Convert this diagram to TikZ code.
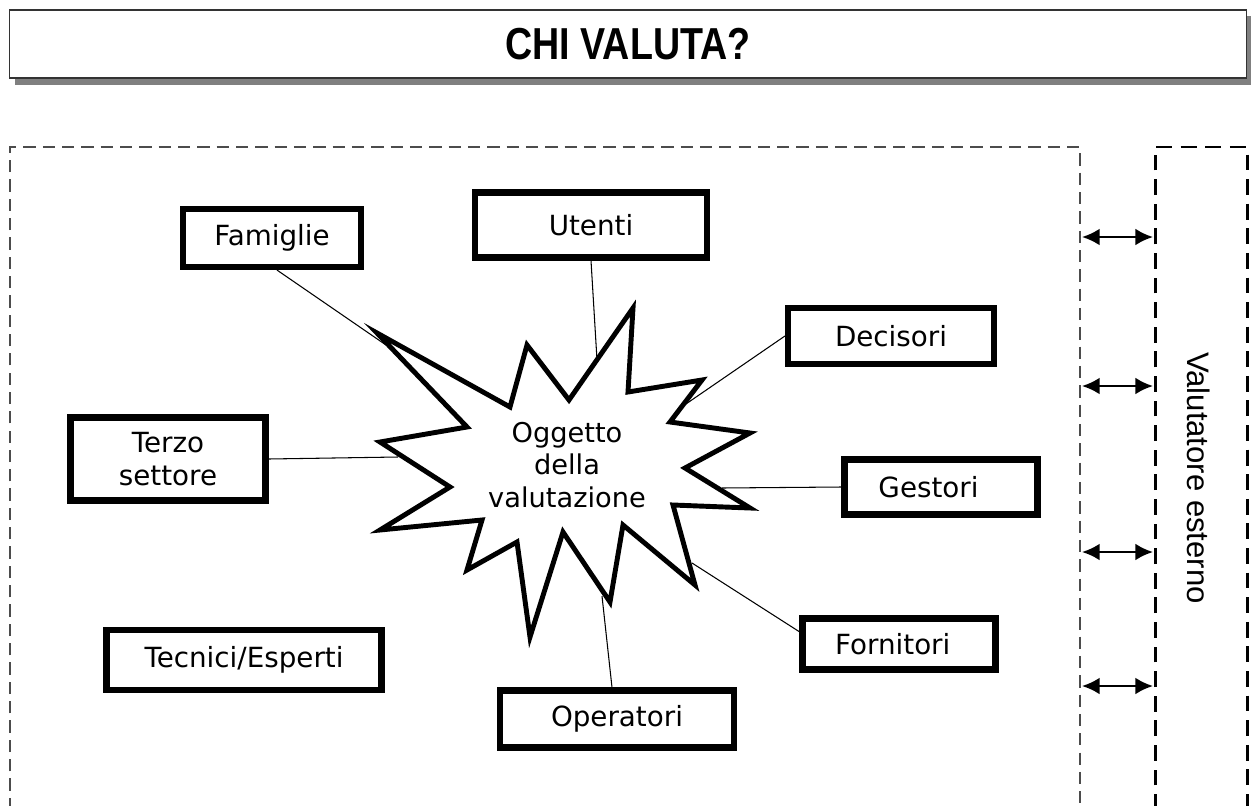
\documentclass[tikz,border=0pt]{standalone}
\usepackage{fontspec}
\setmainfont{DejaVu Sans}
\newfontfamily\arialfont{Liberation Sans}
\usetikzlibrary{arrows.meta}

\begin{document}
\begin{tikzpicture}[x=0.02cm,y=-0.02cm,
	actor/.style={draw,line width=3.5pt,fill=white,align=center,inner sep=0pt,
		font=\fontsize{15.8}{18.5}\selectfont},
	link/.style={line width=0.6pt},
	burst/.style={draw,fill=white,line width=2.8pt,line join=miter},
	biarrow/.style={{Latex[length=10pt,width=9.5pt]}-{Latex[length=10pt,width=9.5pt]},line width=1.3pt}]
	\useasboundingbox (0,0) rectangle (1251,805);
	% titolo
	\fill[black!50] (15,16) rectangle (1251,85);
	\node[draw=black!80,line width=0.9pt,fill=white,minimum width=24.74cm,minimum height=1.36cm]
		(title) at (628,44) {\arialfont\bfseries\fontsize{25.5}{30}\selectfont\scalebox{0.84}[1]{CHI VALUTA?}};
	% riquadri tratteggiati
	\draw[dashed,black!70,line width=0.8pt,dash pattern=on 7pt off 4pt] (10,810) -- (10,147) -- (1080,147) -- (1080,810);
	\draw[dashed,line width=1.7pt,dash pattern=on 9pt off 5pt] (1155,810) -- (1155,147) -- (1247,147) -- (1247,810);
	\node[rotate=-90,font=\arialfont\fontsize{17.7}{20}\selectfont] (esterno) at (1199,478) {Valutatore esterno};
	% frecce
	\foreach \y [count=\i] in {237,386,552,686} {
		\coordinate (l\i) at (1082,\y);
		\coordinate (r\i) at (1153,\y);
		\draw[biarrow] (l\i) -- (r\i);
	}
	% attori
	\node[actor,minimum width=3.56cm,minimum height=1.16cm] (famiglie) at (272,238) {Famiglie};
	\node[actor,minimum width=4.64cm,minimum height=1.30cm] (utenti) at (591,225) {Utenti};
	\node[actor,minimum width=4.12cm,minimum height=1.12cm] (decisori) at (891,336) {Decisori};
	\node[actor,minimum width=3.90cm,minimum height=1.66cm] (terzo) at (168,459) {Terzo\\settore};
	\node[actor,minimum width=3.86cm,minimum height=1.10cm] (gestori) at (941,487) {Gestori\hspace{0.5cm}};
	\node[actor,minimum width=3.86cm,minimum height=1.02cm] (fornitori) at (899,644) {Fornitori\hspace{0.25cm}};
	\node[actor,minimum width=5.50cm,minimum height=1.20cm] (tecnici) at (244,660) {Tecnici/Esperti};
	\node[actor,minimum width=4.68cm,minimum height=1.14cm] (operatori) at (617,719) {Operatori};
	% punti di aggancio sull'oggetto
	\coordinate (sFam) at (386,345);
	\coordinate (sUte) at (597,360);
	\coordinate (sDec) at (683,406);
	\coordinate (sTer) at (398,457);
	\coordinate (sGes) at (722,488);
	\coordinate (sFor) at (692,563);
	\coordinate (sOpe) at (602,596);
	\draw[link] ([xshift=0.1cm]famiglie.south) -- (sFam);
	\draw[link] (utenti.south) -- (sUte);
	\draw[link] (decisori.west) -- (sDec);
	\draw[link] (terzo.east) -- (sTer);
	\draw[link] (gestori.west) -- (sGes);
	\draw[link] (fornitori.173) -- (sFor);
	\draw[link] ([xshift=-0.1cm]operatori.north) -- (sOpe);
	% oggetto della valutazione
	\draw[burst] (377,333) -- (510,407) -- (527,345) -- (569,400) -- (633,308) -- (628,392)
		-- (702,380) -- (670,422) -- (750,433) -- (685,468) -- (750,508) -- (673,505)
		-- (695,585) -- (623,525) -- (610,602) -- (563,532) -- (530,637) -- (517,542)
		-- (467,570) -- (482,520) -- (380,530) -- (450,487) -- (380,442) -- (467,427) -- cycle;
	\node[align=center,font=\fontsize{15.5}{18.3}\selectfont] (oggetto) at (567,465) {Oggetto\\della\\valutazione};
\end{tikzpicture}
\end{document}
